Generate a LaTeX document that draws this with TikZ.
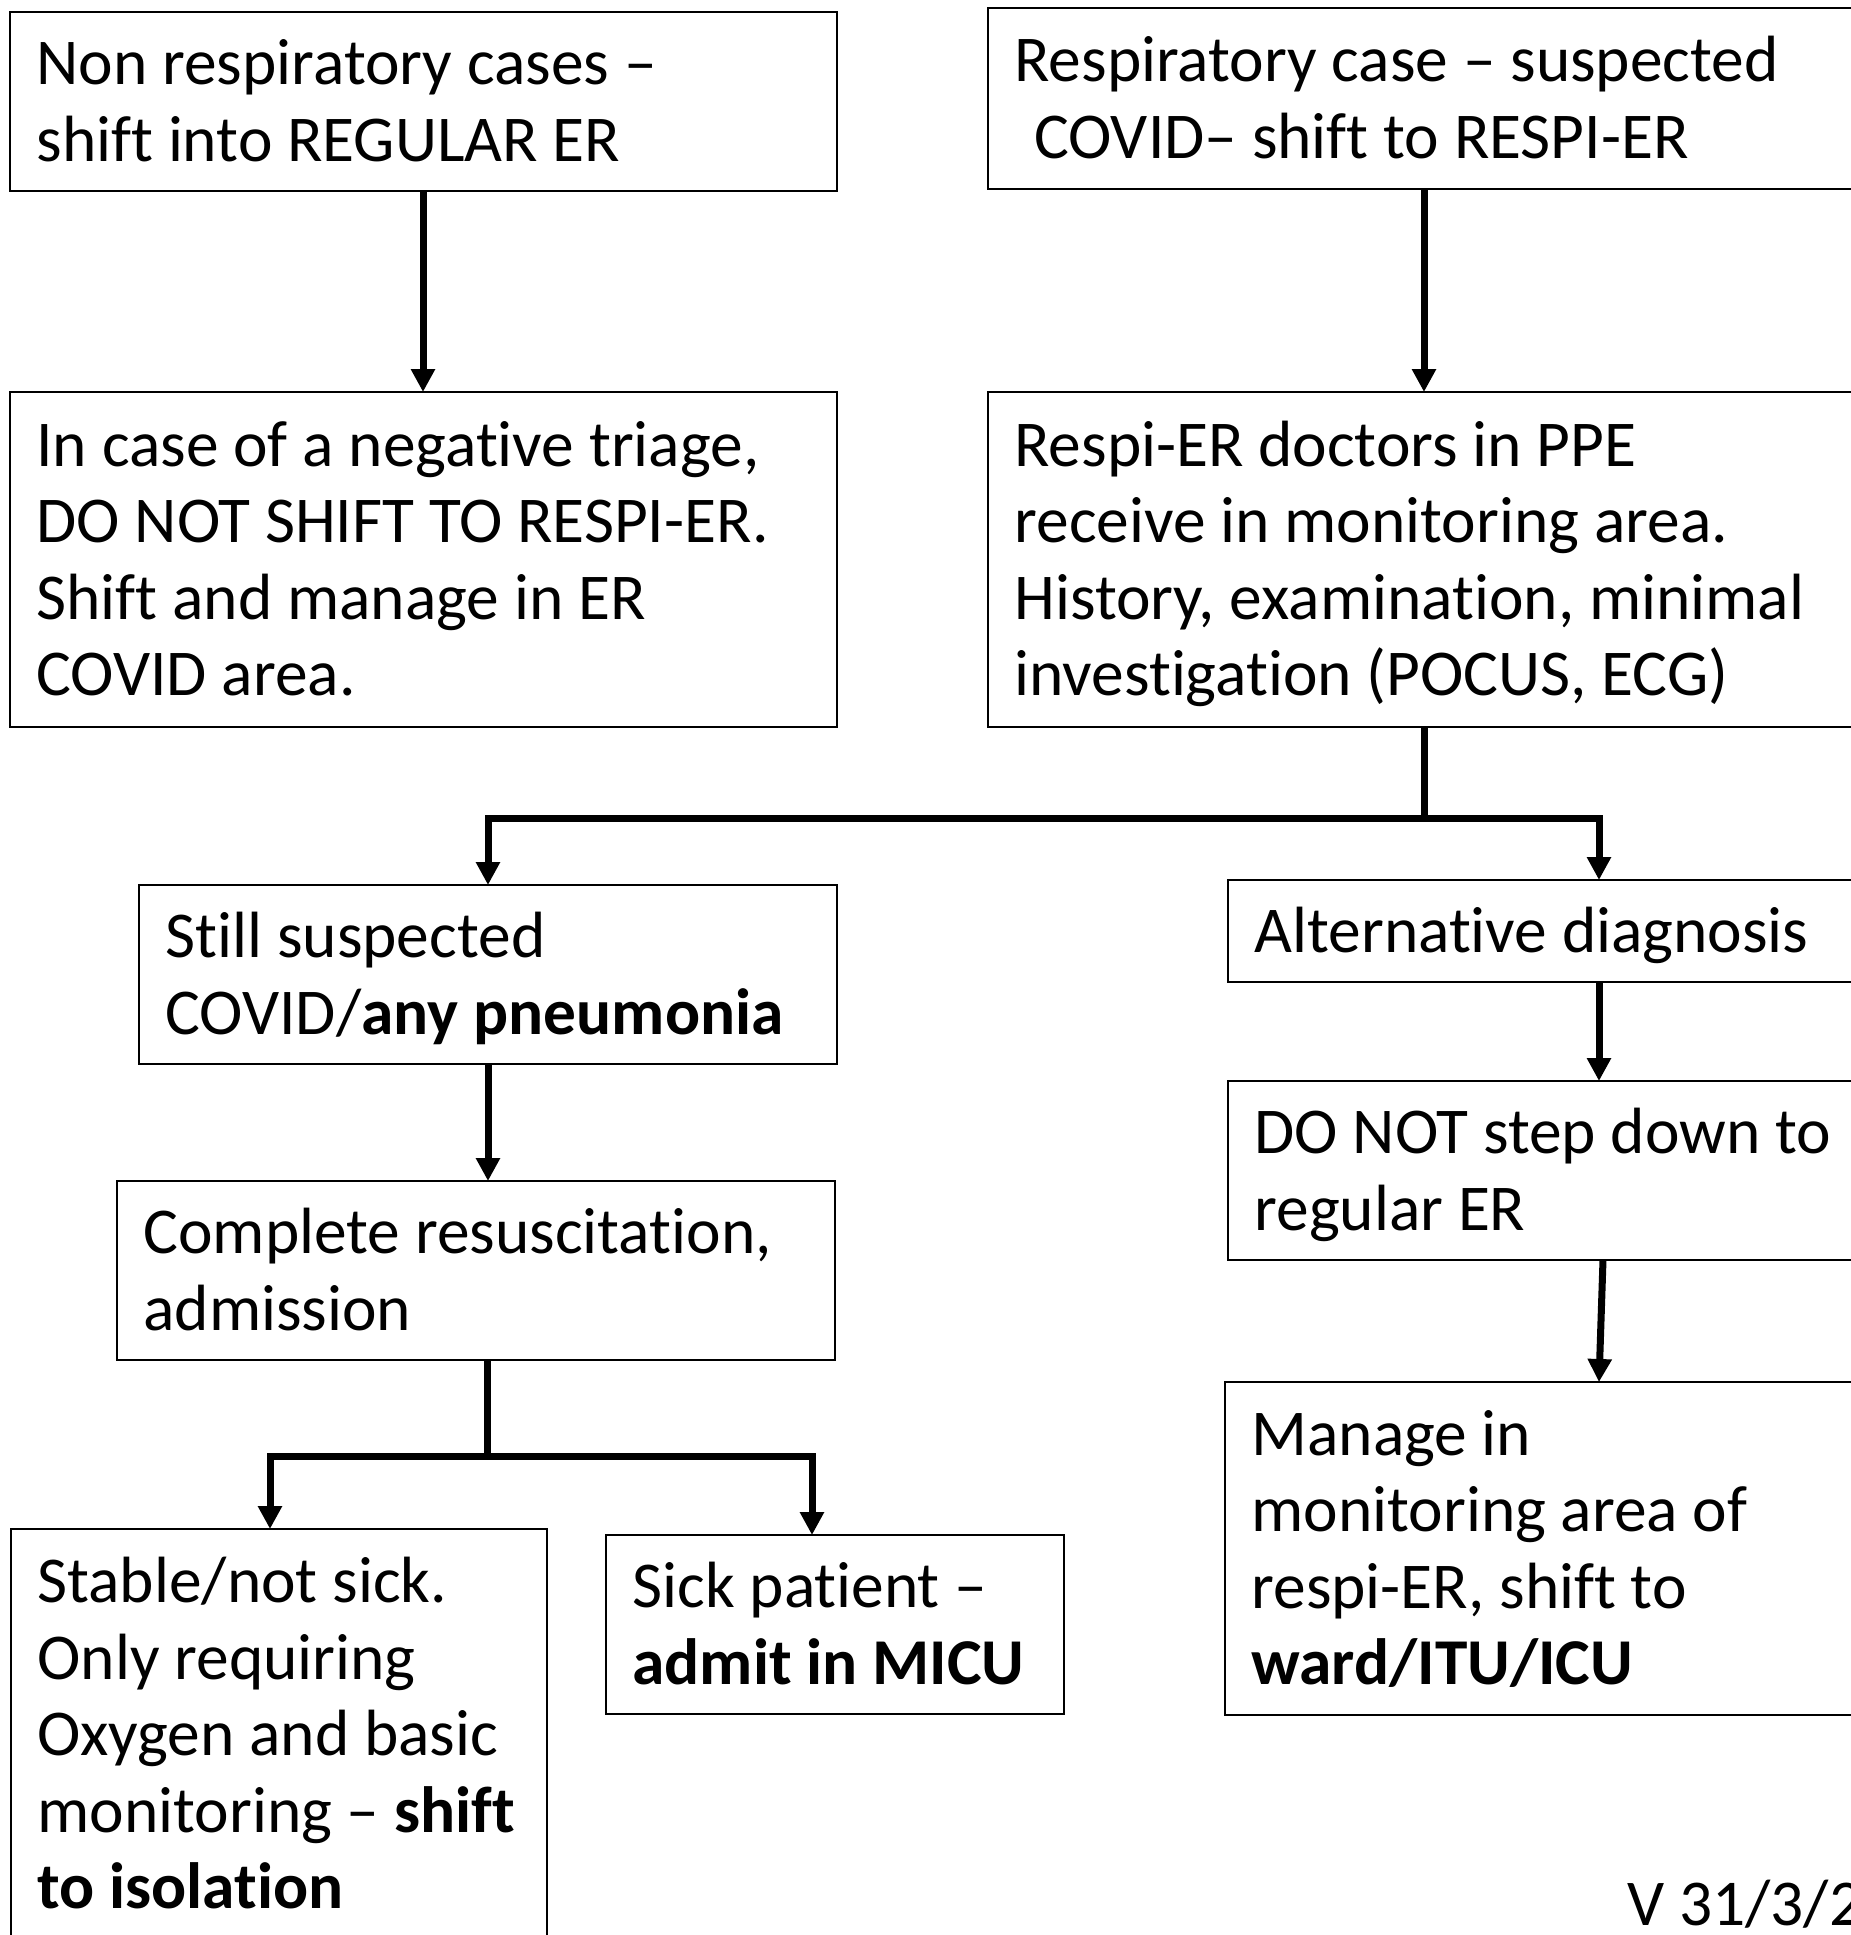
\documentclass[tikz,border=0pt]{standalone}
\usepackage{fontspec}
\setmainfont{Carlito}[Ligatures=NoCommon]
\usetikzlibrary{arrows.meta}
% invisible strut giving every box the same line height and depth
\newcommand\lnstrut{\rule[-7.4pt]{0pt}{36.4pt}}
\begin{document}
\begin{tikzpicture}[x=0.5pt,y=-0.5pt,
  box/.style={draw, line width=1pt, anchor=north west, outer sep=0pt,
    inner xsep=13.25pt, inner ysep=0pt, align=flush left,
    font=\fontsize{32.7pt}{38.25pt}\selectfont,
    execute at begin node=\lnstrut, execute at end node=\lnstrut},
  boxsize/.style n args={3}{minimum width=#1, text width=#2, minimum height=#3},
  conn/.style={line width=3.5pt, line join=miter},
  arr/.style={conn, -{Triangle[length=11.5pt,width=11.5pt]}}]

\useasboundingbox (0,0) rectangle (1851,1935);

% boxes
\node[box, boxsize={413.5pt}{387pt}{89.5pt}] (A) at (10,12)
  {Non respiratory cases --\\shift into REGULAR ER};
\node[box, boxsize={456pt}{429.5pt}{90.5pt}] (B) at (988,8)
  {Respiratory case -- suspected\\\hspace*{0.3em}COVID-- shift to RESPI-ER};
\node[box, boxsize={413.5pt}{387pt}{167.5pt}] (C) at (10,392)
  {In case of a negative triage,\\DO NOT SHIFT TO RESPI-ER.\\Shift and manage in ER\\COVID area.};
\node[box, boxsize={456pt}{429.5pt}{167.5pt}] (D) at (988,392)
  {Respi-ER doctors in PPE\\receive in monitoring area.\\History, examination, minimal\\investigation (POCUS, ECG)};
\node[box, boxsize={349pt}{322.5pt}{89.5pt}] (E) at (139,885)
  {Still suspected\\COVID/\textbf{any pneumonia}};
\node[box, boxsize={336pt}{309.5pt}{51pt}] (F) at (1228,880)
  {Alternative diagnosis};
\node[box, boxsize={336pt}{309.5pt}{89.5pt}] (G) at (1228,1081)
  {\mbox{DO NOT step down to}\\regular ER};
\node[box, boxsize={337.5pt}{311pt}{166.5pt}] (H) at (1225,1382)
  {Manage in\\monitoring area of\\respi-ER, shift to\\\textbf{ward/ITU/ICU}};
\node[box, boxsize={359pt}{332.5pt}{89.5pt}] (I) at (117,1181)
  {Complete resuscitation,\\admission};
\node[box, boxsize={268pt}{241.5pt}{205pt}] (J) at (11,1529)
  {Stable/not sick.\\Only requiring\\Oxygen and basic\\\mbox{monitoring -- \textbf{shift}}\\\textbf{to isolation}};
\node[box, boxsize={229pt}{202.5pt}{89.5pt}] (K) at (606,1535)
  {Sick patient --\\\textbf{admit in MICU}};

\node[anchor=base west, inner sep=0pt, font=\fontsize{32.7pt}{38.25pt}\selectfont]
  (ver) at (1627,1925) {V 31/3/20};

% connector columns and branch rows
\coordinate (colA) at (423,0);
\coordinate (colR) at (1424,0);
\coordinate (colE) at (488,0);
\coordinate (colF) at (1599,0);
\coordinate (colG) at (1603,0);
\coordinate (colS) at (487,0);
\coordinate (colJ) at (270,0);
\coordinate (colK) at (812,0);
\coordinate (rowD) at (0,818);
\coordinate (rowI) at (0,1456);

% connectors
\draw[arr] (A.south -| colA) -- (C.north -| colA);
\draw[arr] (B.south -| colR) -- (D.north -| colR);
\draw[conn] (D.south -| colR) -- (colR |- rowD);
\draw[arr] (colR |- rowD) -| (E.north -| colE);
\draw[arr] (colR |- rowD) -| (F.north -| colF);
\draw[arr] (F.south -| colF) -- (G.north -| colF);
\draw[arr] (G.south -| colG) -- (H.north -| colF);
\draw[arr] (E.south -| colE) -- (I.north -| colE);
\draw[conn] (I.south -| colS) -- (colS |- rowI);
\draw[arr] (colS |- rowI) -| (J.north -| colJ);
\draw[arr] (colS |- rowI) -| (K.north -| colK);
\end{tikzpicture}
\end{document}
